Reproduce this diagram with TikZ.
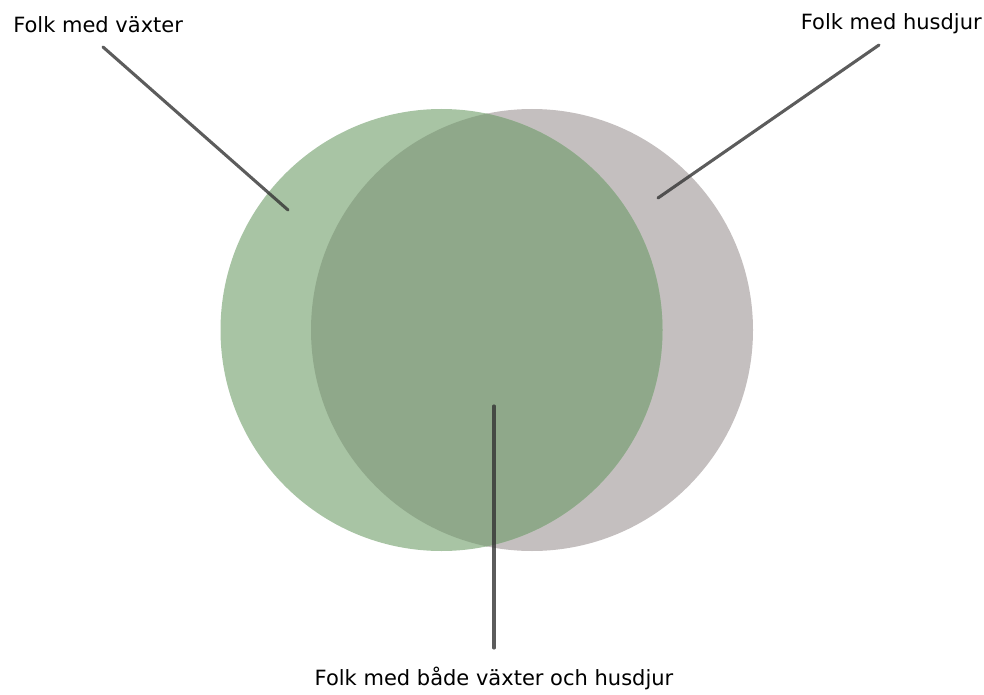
\documentclass[tikz,border=0pt]{standalone}
\usepackage{fontspec}
\setmainfont{DejaVu Sans}
\definecolor{greenlight}{HTML}{A8C4A4}
\definecolor{greendark}{HTML}{8FA88A}
\definecolor{graycirc}{HTML}{C4BFBF}
\definecolor{linecol}{HTML}{333333}
\begin{document}
\begin{tikzpicture}[x=0.75pt,y=-0.75pt,
  label/.style={inner sep=0pt,font=\fontsize{15.75}{19}\selectfont,text=black},
  leader/.style={draw=linecol,draw opacity=0.8,line width=2.3pt,line cap=round}]
\useasboundingbox (0,0) rectangle (984,695);
% circles
\fill[graycirc] (532,330) circle (221);
\fill[greenlight] (441.5,330) circle (221);
\begin{scope}
  \clip (532,330) circle (221);
  \fill[greendark] (441.5,330) circle (221);
\end{scope}
% labels
\node[label,anchor=base west] (plants) at (13,33) {Folk med växter};
\node[label,anchor=base east] (pets) at (982,30) {Folk med husdjur};
\node[label,anchor=base] (both) at (494,685) {Folk med både växter och husdjur};
% leader end points
\coordinate (pA) at (103,47);
\coordinate (pB) at (288,210);
\coordinate (hA) at (879,45);
\coordinate (hB) at (658,198);
\coordinate (bA) at (494,406);
\coordinate (bB) at (494,648);
\draw[leader] (pA) -- (pB);
\draw[leader] (hA) -- (hB);
\draw[leader] (bA) -- (bB);
\end{tikzpicture}
\end{document}
